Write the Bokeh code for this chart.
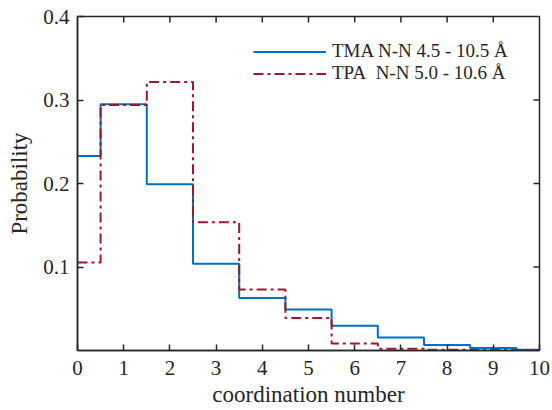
from bokeh.plotting import figure
from bokeh.models import FixedTicker, Range1d, Legend, LegendItem
from bokeh.embed import file_html
from bokeh.resources import INLINE

# data
coord = [0, 1, 2, 3, 4, 5, 6, 7, 8, 9, 10]
tma = [0.233, 0.295, 0.199, 0.104, 0.063, 0.049, 0.0295, 0.0155, 0.0065, 0.003, 0.001]
tpa = [0.1055, 0.294, 0.3215, 0.1535, 0.073, 0.039, 0.0085, 0.002, 0.001, 0.0005, 0.0003]
x_ticks = [0, 1, 2, 3, 4, 5, 6, 7, 8, 9, 10]
y_ticks = [0.1, 0.2, 0.3, 0.4]
labels = ["TMA N-N 4.5 - 10.5 Å", "TPA\u00a0 N-N 5.0 - 10.6 Å"]

FONT = "Liberation Serif"
TXT = "#262626"
BLUE = "#0072BD"
RED = "#A2142F"
X0, X1, Y0, Y1 = 0, 10, 0, 0.4

p = figure(width=552, height=410, x_range=Range1d(X0, X1), y_range=Range1d(Y0, Y1),
           output_backend="svg", toolbar_location=None,
           min_border_left=77, min_border_right=13, min_border_top=16, min_border_bottom=60)
p.background_fill_color = "white"
p.border_fill_color = "white"
p.xgrid.visible = False
p.ygrid.visible = False
p.outline_line_color = TXT
p.outline_line_width = 1.5

bottom = p.below[0]
left = p.left[0]
for ax in (bottom, left):
    ax.axis_line_color = TXT
    ax.axis_line_width = 1.5
    ax.major_tick_line_color = TXT
    ax.major_tick_line_width = 1.5
    ax.major_tick_in = 6
    ax.major_tick_out = 0
    ax.minor_tick_line_color = None
    ax.major_label_text_font = FONT
    ax.major_label_text_font_size = "21px"
    ax.major_label_text_color = TXT
    ax.axis_label_text_font = FONT
    ax.axis_label_text_font_size = "23px"
    ax.axis_label_text_font_style = "normal"
    ax.axis_label_text_color = TXT

bottom.ticker = FixedTicker(ticks=x_ticks)
left.ticker = FixedTicker(ticks=y_ticks)
bottom.axis_label = "coordination number"
left.axis_label = "Probability"
bottom.major_label_standoff = 10
left.major_label_standoff = 8
bottom.axis_label_standoff = 4
left.axis_label_standoff = 8

# mirrored inward ticks on the top and right frame edges, from the tick arrays
tx = x_ticks[1:-1]
ty = y_ticks[:-1]
tick_len_y = (Y1 - Y0) * 6 / 334
tick_len_x = (X1 - X0) * 6 / 462
p.segment(x0=tx, y0=[Y1] * len(tx), x1=tx, y1=[Y1 - tick_len_y] * len(tx),
          line_color=TXT, line_width=1.5)
p.segment(x0=[X1] * len(ty), y0=ty, x1=[X1 - tick_len_x] * len(ty), y1=ty,
          line_color=TXT, line_width=1.5)

r1 = p.step(coord, tma, mode="center", line_color=BLUE, line_width=2)
r2 = p.step(coord, tpa, mode="center", line_color=RED, line_width=2, line_dash="10 4 3 4")

legend = Legend(items=[LegendItem(label=labels[0], renderers=[r1]),
                       LegendItem(label=labels[1], renderers=[r2])],
                location=(176, 266), border_line_color=None, background_fill_alpha=0,
                label_text_font=FONT, label_text_font_size="19px", label_text_color=TXT,
                glyph_width=73, glyph_height=21, label_height=21, spacing=0, padding=0,
                margin=0, label_standoff=6)
p.add_layout(legend)

open("out.html", "w").write(file_html(p, INLINE))
